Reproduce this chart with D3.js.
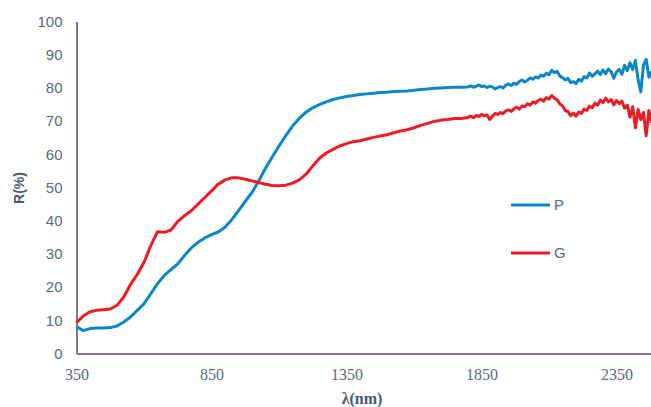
<!DOCTYPE html>
<html lang="en">
<head>
  <meta charset="UTF-8">
  <title>R(%) vs wavelength</title>
  <script src="https://cdn.jsdelivr.net/npm/d3@7"></script>
  <style>
    body { margin: 0; background: #fff; }
    svg { display: block; }
  </style>
</head>
<body>
<div id="chart"></div>
<script type="text/javascript">
  // wavelength grid: 25 nm steps on the smooth part, 10 nm on the noisy tail
  var lambdaSmooth = d3.range(350, 1800, 25);
  var lambdaNoisy = d3.range(1800, 2481, 10);
  var lambda = lambdaSmooth.concat(lambdaNoisy);

  var seriesNames = ["P", "G"];
  var seriesColors = ["#0b87c9", "#ed1c24"];

  var pValues = [
    8.1, 6.9, 7.5, 7.7, 7.7, 7.8, 8.3, 9.5, 11.0, 13.0,
    15.0, 18.0, 21.0, 23.5, 25.3, 27.0, 29.5, 31.8, 33.5, 34.8,
    35.8, 36.6, 38.0, 40.3, 43.0, 45.8, 48.5, 52.0, 55.8, 59.2,
    62.5, 65.6, 68.5, 70.8, 72.7, 74.0, 75.0, 75.8, 76.5, 77.0,
    77.4, 77.7, 78.0, 78.2, 78.4, 78.6, 78.7, 78.9, 79.0, 79.1,
    79.3, 79.5, 79.7, 79.9, 80.0, 80.1, 80.2, 80.2,
    // 1800 - 2480
    80.3, 80.6, 80.2, 80.5, 80.9, 80.4, 80.6, 80.1, 80.5, 80.3,
    79.7, 80.1, 80.4, 80.0, 80.8, 81.2, 80.7, 81.4, 81.1, 81.9,
    82.4, 81.8, 82.3, 83.0, 82.6, 83.3, 83.0, 83.9, 83.5, 84.4,
    84.0, 85.3, 84.6, 85.0, 83.6, 83.1, 82.4, 82.9, 81.6, 81.9,
    81.3, 82.6, 82.0, 83.4, 83.0, 84.5, 83.5, 84.2, 85.1, 84.0,
    85.4, 84.3, 85.7, 84.9, 82.9, 84.8, 85.6, 84.1, 86.8, 85.2,
    87.6, 85.5, 88.3, 82.5, 78.8, 86.9, 88.6, 83.2, 85.0
  ];

  var gValues = [
    9.3, 11.3, 12.6, 13.0, 13.2, 13.4, 14.5, 17.0, 20.8, 23.8,
    27.5, 32.5, 36.7, 36.5, 37.2, 39.8, 41.5, 43.0, 45.0, 47.0,
    49.0, 51.0, 52.3, 52.9, 52.9, 52.5, 52.0, 51.5, 51.0, 50.6,
    50.5, 50.7, 51.3, 52.3, 54.0, 56.5, 58.8, 60.4, 61.5, 62.5,
    63.2, 63.8, 64.1, 64.6, 65.1, 65.5, 65.9, 66.5, 67.0, 67.4,
    68.0, 68.7, 69.3, 69.9, 70.3, 70.5, 70.8, 70.8,
    // 1800 - 2480
    71.1, 71.5, 71.0, 71.7, 71.4, 72.0, 71.6, 71.9, 70.5, 71.4,
    72.3, 72.0, 72.6, 72.2, 73.1, 73.4, 72.9, 73.7, 74.2, 73.6,
    74.6, 74.3, 75.2, 74.8, 75.8, 75.4, 76.2, 76.6, 76.0, 77.1,
    76.6, 77.7, 76.9, 76.4, 75.2, 74.6, 73.2, 72.9, 71.6, 72.4,
    71.5, 72.7, 72.3, 73.6, 73.2, 74.5, 74.0, 75.4, 74.8, 76.3,
    75.6, 76.9, 75.8, 76.5, 74.9, 76.2, 75.3, 76.0, 73.9, 74.8,
    71.2, 74.3, 68.0, 73.5, 70.4, 72.6, 65.6, 73.2, 69.5
  ];

  var xTicks = [350, 850, 1350, 1850, 2350];
  var yTicks = [0, 10, 20, 30, 40, 50, 60, 70, 80, 90, 100];

  var width = 651;
  var height = 407;
  var axisColor = "#8b7493";
  var textColor = "#5a6a80";

  var svg = d3.select("#chart").append("svg")
    .attr("width", width)
    .attr("height", height);

  var x = d3.scaleLinear().domain([350, 2500]).range([76.5, 657]);
  var y = d3.scaleLinear().domain([0, 100]).range([353.5, 21.5]);

  // y axis
  var yAxis = svg.append("g")
    .attr("transform", "translate(76.5,0)")
    .call(d3.axisLeft(y).tickValues(yTicks).tickFormat(d3.format("d"))
      .tickSize(0).tickPadding(14));
  yAxis.select(".domain").attr("stroke", axisColor).attr("stroke-width", 2);
  yAxis.selectAll("text")
    .attr("fill", textColor)
    .style("font-family", "'Liberation Sans', Arial, sans-serif")
    .style("font-size", "15px");

  // x axis
  var xAxis = svg.append("g")
    .attr("transform", "translate(0,353.5)")
    .call(d3.axisBottom(x).tickValues(xTicks).tickFormat(d3.format("d"))
      .tickSize(0).tickPadding(15));
  xAxis.select(".domain").attr("stroke", axisColor).attr("stroke-width", 2);
  xAxis.selectAll("text")
    .attr("fill", textColor)
    .style("font-family", "'Liberation Serif', 'Times New Roman', serif")
    .style("font-size", "16px");

  // axis titles
  svg.append("text")
    .attr("transform", "translate(24,188) rotate(-90)")
    .attr("text-anchor", "middle")
    .attr("fill", "#4a5a72")
    .style("font-family", "'Liberation Sans', Arial, sans-serif")
    .style("font-weight", "bold")
    .style("font-size", "14px")
    .text("R(%)");

  svg.append("text")
    .attr("x", 362)
    .attr("y", 404)
    .attr("text-anchor", "middle")
    .attr("fill", "#4a5a72")
    .style("font-family", "'Liberation Serif', 'Times New Roman', serif")
    .style("font-weight", "bold")
    .style("font-size", "16px")
    .text("λ(nm)");

  // curves
  var line = d3.line()
    .x(function(d) { return x(d[0]); })
    .y(function(d) { return y(d[1]); });

  [pValues, gValues].forEach(function(vals, i) {
    var pts = lambda.map(function(l, j) { return [l, vals[j]]; });
    svg.append("path")
      .datum(pts)
      .attr("fill", "none")
      .attr("stroke", seriesColors[i])
      .attr("stroke-width", 3)
      .attr("stroke-linejoin", "round")
      .attr("d", line);
  });

  // legend
  var legendY = [205, 253];
  seriesNames.forEach(function(name, i) {
    svg.append("line")
      .attr("x1", 511).attr("x2", 550)
      .attr("y1", legendY[i]).attr("y2", legendY[i])
      .attr("stroke", seriesColors[i])
      .attr("stroke-width", 3);
    svg.append("text")
      .attr("x", 554)
      .attr("y", legendY[i] + 5)
      .attr("fill", textColor)
      .style("font-family", "'Liberation Sans', Arial, sans-serif")
      .style("font-size", "15px")
      .text(name);
  });
</script>
</body>
</html>
